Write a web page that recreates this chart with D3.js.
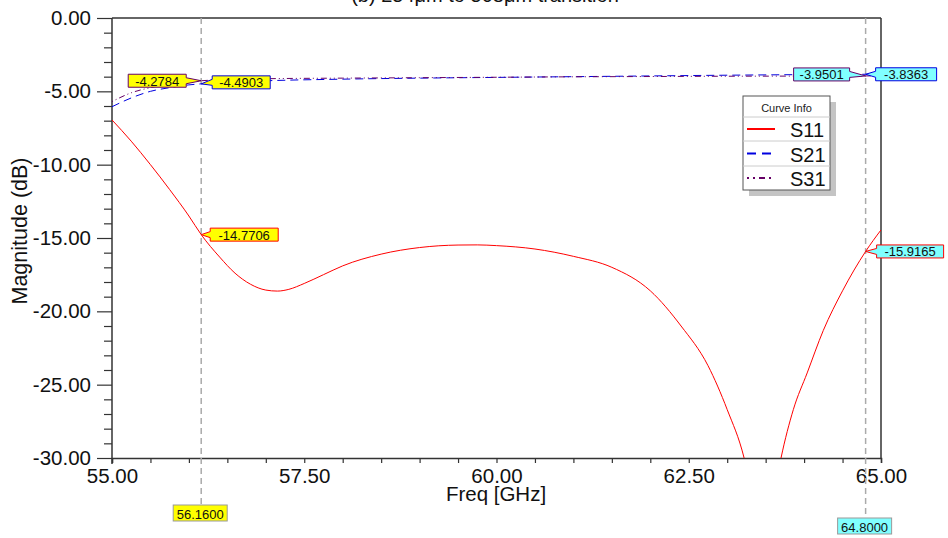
<!DOCTYPE html>
<html>
<head>
<meta charset="utf-8">
<script src="https://cdn.jsdelivr.net/npm/d3@7"></script>
<style>
  html, body { margin: 0; padding: 0; background: #fff; }
  svg { display: block; font-family: "Liberation Sans", Arial, sans-serif; }
</style>
</head>
<body>
<svg id="chart" width="948" height="538"></svg>
<script>
// Frequency sweep (GHz) and S-parameter magnitudes (dB)
const freqS11 = [55.0, 55.25, 55.5, 55.75, 56.0, 56.16, 56.4, 56.6, 56.8, 57.0, 57.15, 57.3, 57.5, 57.75, 58.0, 58.5, 59.0, 59.5, 59.75, 60.0, 60.5, 61.0, 61.5, 62.0, 62.4, 62.75, 63.0, 63.22, 63.38, 63.46, 63.56, 63.7, 63.86, 64.04, 64.25, 64.5, 64.8, 65.0];
const s11 = [-6.95, -8.4, -10.0, -11.7, -13.5, -14.7706, -16.3, -17.4, -18.15, -18.55, -18.62, -18.5, -18.1, -17.5, -16.9, -16.1, -15.65, -15.48, -15.47, -15.52, -15.75, -16.25, -17.0, -18.6, -21.0, -23.7, -26.7, -30.0, -34.0, -38.0, -34.0, -30.0, -26.7, -24.2, -21.3, -18.6, -15.9165, -14.45];

const freqS21 = [55.0, 55.25, 55.5, 55.75, 56.0, 56.16, 56.5, 57.0, 58.0, 59.0, 60.0, 61.0, 62.0, 63.0, 64.0, 64.8, 65.0];
const s21 = [-6.05, -5.45, -5.0, -4.75, -4.56, -4.4903, -4.38, -4.28, -4.17, -4.1, -4.05, -4.0, -3.95, -3.9, -3.86, -3.8363, -3.83];

const freqS31 = [55.0, 55.25, 55.5, 55.75, 56.0, 56.16, 56.5, 57.0, 58.0, 59.0, 60.0, 61.0, 62.0, 63.0, 64.0, 64.8, 65.0];
const s31 = [-5.7, -5.1, -4.75, -4.5, -4.35, -4.2784, -4.2, -4.14, -4.1, -4.07, -4.04, -4.01, -3.99, -3.97, -3.96, -3.9501, -3.94];

// Axis ticks
const xTicks = [55, 57.5, 60, 62.5, 65];
const xMinorTicks = [55.5, 56, 56.5, 57, 58, 58.5, 59, 59.5, 60.5, 61, 61.5, 62, 63, 63.5, 64, 64.5];
const yTicks = [0, -5, -10, -15, -20, -25, -30];
const yMinorTicks = [-1, -2, -3, -4, -6, -7, -8, -9, -11, -12, -13, -14, -16, -17, -18, -19, -21, -22, -23, -24, -26, -27, -28, -29];

// Markers
const markerFreqs = [56.16, 64.8];
const markerFreqLabels = ["56.1600", "64.8000"];
const markerFills = ["#ffff00", "#80ffff"];

const seriesNames = ["S11", "S21", "S31"];
const seriesColors = ["#ff0000", "#0000e0", "#660066"];
const seriesDash = [null, "8,5", "1,3,1,3,6,3"];
const legendDash = [null, "9,6", "2,4,2,4,6,4"];
const titleText = "(b) 254μm to 508μm transition";

const svg = d3.select("#chart");
const margin = { left: 112, right: 67, top: 18, bottom: 80 };
const W = 948, H = 538;
const x = d3.scaleLinear().domain([55, 65]).range([margin.left, W - margin.right]);
const y = d3.scaleLinear().domain([-30, 0]).range([H - margin.bottom, margin.top]);
const axisColor = "#333";
const fmt = v => d3.format(".2f")(v).replace("\u2212", "-");

// Title (partly above the page edge)
svg.append("text").attr("x", 485).attr("y", 2).attr("text-anchor", "middle")
  .attr("font-size", 20).attr("fill", "#111").text(titleText);

// Frame: top and right borders
svg.append("line").attr("x1", x(55)).attr("x2", x(65)).attr("y1", y(0)).attr("y2", y(0))
  .attr("stroke", "#666").attr("stroke-width", 2);
svg.append("line").attr("x1", x(65)).attr("x2", x(65)).attr("y1", y(0)).attr("y2", y(-30))
  .attr("stroke", axisColor).attr("stroke-width", 1.5);

// Y axis
const yAxis = svg.append("g").attr("transform", `translate(${x(55)},0)`)
  .call(d3.axisLeft(y).tickValues(yTicks).tickSize(15).tickPadding(6).tickFormat(fmt));
svg.append("g").attr("transform", `translate(${x(55)},0)`)
  .call(d3.axisLeft(y).tickValues(yMinorTicks).tickSize(8).tickFormat(""))
  .call(g => g.select(".domain").remove());

// X axis
const xAxis = svg.append("g").attr("transform", `translate(0,${y(-30)})`)
  .call(d3.axisBottom(x).tickValues(xTicks).tickSize(5).tickPadding(5).tickFormat(fmt));
svg.append("g").attr("transform", `translate(0,${y(-30)})`)
  .call(d3.axisBottom(x).tickValues(xMinorTicks).tickSize(5).tickFormat(""))
  .call(g => g.select(".domain").remove());

svg.selectAll(".tick line").attr("stroke", axisColor).attr("stroke-width", 1.2);
svg.selectAll(".domain").attr("stroke", axisColor).attr("stroke-width", 1.5);
svg.selectAll(".tick text").attr("font-size", 20.5).attr("fill", "#111")
  .attr("font-family", "'Liberation Sans', Arial, sans-serif");
yAxis.selectAll(".domain").attr("d", `M0,${y(0)}V${y(-30) + 6}`);

// Axis titles
svg.append("text").attr("x", 496).attr("y", 501).attr("text-anchor", "middle")
  .attr("font-size", 20.5).attr("fill", "#111").text("Freq [GHz]");
svg.append("text").attr("transform", "translate(27,231) rotate(-90)")
  .attr("text-anchor", "middle").attr("font-size", 21.5).attr("fill", "#111").text("Magnitude (dB)");

// Clip for curves
svg.append("clipPath").attr("id", "plotClip").append("rect")
  .attr("x", x(55)).attr("y", y(0)).attr("width", x(65) - x(55)).attr("height", y(-30) - y(0));

const line = d3.line().x(d => x(d[0])).y(d => y(d[1])).curve(d3.curveMonotoneX);
const series = [
  d3.zip(freqS11, s11),
  d3.zip(freqS21, s21),
  d3.zip(freqS31, s31)
];

// Marker vertical dashed lines
const markerBottoms = [505, 518];
markerFreqs.forEach((f, i) => {
  svg.append("line").attr("x1", x(f)).attr("x2", x(f)).attr("y1", y(0)).attr("y2", markerBottoms[i])
    .attr("stroke", "#aaa").attr("stroke-width", 1.5).attr("stroke-dasharray", "6,4");
});

const curves = svg.append("g").attr("clip-path", "url(#plotClip)");
series.forEach((d, i) => {
  curves.append("path").datum(d).attr("d", line).attr("fill", "none")
    .attr("stroke", seriesColors[i]).attr("stroke-width", 1)
    .attr("stroke-dasharray", seriesDash[i]);
});

// Marker frequency labels below the axis
markerFreqs.forEach((f, i) => {
  const w = 54, h = 16;
  const g = svg.append("g");
  g.append("rect").attr("x", x(f) - w / 2 - 1).attr("y", markerBottoms[i]).attr("width", w).attr("height", h)
    .attr("fill", markerFills[i]).attr("stroke", "#999").attr("stroke-width", 1);
  g.append("text").attr("x", x(f) - 1).attr("y", markerBottoms[i] + h / 2 + 1)
    .attr("text-anchor", "middle").attr("dominant-baseline", "central")
    .attr("font-size", 13).attr("fill", "#111").text(markerFreqLabels[i]);
});

// Value callouts at the marker points
const valueAt = (fs, vs, f) => vs[fs.indexOf(f)];
const callouts = [
  { f: 56.16, v: valueAt(freqS31, s31, 56.16), side: "left", gap: 15, w: 58, c: 2, dy: 0 },
  { f: 56.16, v: valueAt(freqS21, s21, 56.16), side: "right", gap: 11, w: 58, c: 1, dy: -1.5 },
  { f: 56.16, v: valueAt(freqS11, s11, 56.16), side: "right", gap: 9, w: 68, c: 0, dy: 0 },
  { f: 64.8, v: valueAt(freqS31, s31, 64.8), side: "left", gap: 16, w: 56, c: 2, dy: -1.5 },
  { f: 64.8, v: valueAt(freqS21, s21, 64.8), side: "right", gap: 10, w: 61, c: 1, dy: 0 },
  { f: 64.8, v: valueAt(freqS11, s11, 64.8), side: "right", gap: 11, w: 67, c: 0, dy: 0 }
];
callouts.forEach(co => {
  const px = x(co.f), py = y(co.v);
  const h = 13, cy = py + co.dy;
  const fill = markerFills[markerFreqs.indexOf(co.f)];
  let pts;
  if (co.side === "left") {
    const r = px - co.gap, l = r - co.w;
    pts = [[l, cy - h / 2], [r, cy - h / 2], [r, cy - 3], [px, py], [r, cy + 3], [r, cy + h / 2], [l, cy + h / 2]];
  } else {
    const l = px + co.gap, r = l + co.w;
    pts = [[l, cy - h / 2], [r, cy - h / 2], [r, cy + h / 2], [l, cy + h / 2], [l, cy + 3], [px, py], [l, cy - 3]];
  }
  svg.append("polygon").attr("points", pts.map(p => p.join(",")).join(" "))
    .attr("fill", fill).attr("stroke", seriesColors[co.c]).attr("stroke-width", 1);
  const tx = co.side === "left" ? px - co.gap - co.w / 2 : px + co.gap + co.w / 2;
  svg.append("text").attr("x", tx).attr("y", cy + 0.5).attr("text-anchor", "middle")
    .attr("dominant-baseline", "central").attr("font-size", 13).attr("fill", "#111")
    .text(co.v.toFixed(4));
});

// Legend
const lg = svg.append("g");
const lx = 743, ly = 96, lw = 87, lh = 94;
lg.append("rect").attr("x", lx + 6).attr("y", ly + 6).attr("width", lw).attr("height", lh).attr("fill", "#c4c4c4");
lg.append("rect").attr("x", lx).attr("y", ly).attr("width", lw).attr("height", lh)
  .attr("fill", "#fff").attr("stroke", "#555").attr("stroke-width", 1);
lg.append("text").attr("x", lx + lw / 2).attr("y", ly + 12).attr("text-anchor", "middle")
  .attr("dominant-baseline", "central").attr("font-size", 11).attr("fill", "#222").text("Curve Info");
const rowTops = [117, 141, 166];
rowTops.forEach(t => lg.append("line").attr("x1", lx).attr("x2", lx + lw).attr("y1", t).attr("y2", t)
  .attr("stroke", "#ccc").attr("stroke-width", 1));
const rowCenters = [129, 153.5, 178];
seriesNames.forEach((name, i) => {
  lg.append("line").attr("x1", lx + 4).attr("x2", lx + 32).attr("y1", rowCenters[i]).attr("y2", rowCenters[i])
    .attr("stroke", seriesColors[i]).attr("stroke-width", 2).attr("stroke-dasharray", legendDash[i]);
  lg.append("text").attr("x", lx + 47).attr("y", rowCenters[i] + 1).attr("dominant-baseline", "central")
    .attr("font-size", 20).attr("fill", "#111").text(name);
});
</script>
</body>
</html>
